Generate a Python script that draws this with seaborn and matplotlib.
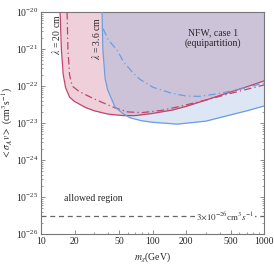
import numpy as np
import pandas as pd
import matplotlib
matplotlib.use('Agg')
import matplotlib.pyplot as plt
import matplotlib.ticker as mticker
import seaborn as sns

# curves: dark-matter mass (GeV) and log10 <sigma v>
red_m = [14.8, 15.2, 15.8, 16.6, 18, 20, 25, 30, 40, 55, 70, 100, 150, 200, 300, 500, 700, 1000]
red_y = [-20.0, -21.0, -21.7, -22.05, -22.3, -22.42, -22.58, -22.67, -22.76, -22.80, -22.80,
         -22.74, -22.65, -22.55, -22.38, -22.16, -22.02, -21.86]

red_dd_m = [17.1, 17.4, 18.0, 19, 22, 30, 45, 60, 80, 120, 176, 300, 500, 1000]
red_dd_y = [-20.0, -21.0, -21.7, -22.0, -22.15, -22.35, -22.58, -22.70, -22.72, -22.66,
            -22.55, -22.38, -22.2, -21.97]

blue_m = [35.2, 35.8, 37.5, 39.5, 46, 55, 63, 80, 100, 166, 300, 500, 700, 1000]
blue_y = [-20.0, -21.0, -21.8, -22.1, -22.57, -22.76, -22.86, -22.94, -22.98, -23.03,
          -22.95, -22.78, -22.67, -22.54]

blue_dd_m = [36, 40, 48, 55, 67, 77, 100, 150, 200, 260, 400, 600, 1000]
blue_dd_y = [-20.45, -20.75, -21.03, -21.35, -21.65, -21.82, -22.03, -22.2, -22.27, -22.28,
             -22.2, -22.09, -21.92]

thermal = 3e-26

red_c = '#c0456a'
blue_c = '#6a9ee0'
pink = '#efcfd9'
lightblue = '#dce6f5'
purple = '#cdc3d9'

sns.set_style('ticks')
plt.rcParams['font.family'] = ['Liberation Serif', 'DejaVu Serif']
plt.rcParams['mathtext.fontset'] = 'stix'

fig = plt.figure(figsize=(2.74, 2.68), dpi=100)
ax = fig.add_axes([0.150, 0.127, 0.814, 0.828])

top = 1e-20
# filled regions
grid = np.logspace(np.log10(min(red_m)), 3, 600)
lr = np.interp(np.log10(grid), np.log10(red_m), red_y)
ax.fill_between(grid, 10 ** lr, top, color=pink, lw=0, zorder=1)
gb = np.logspace(np.log10(min(blue_m)), 3, 600)
lb = np.interp(np.log10(gb), np.log10(blue_m), blue_y)
ax.fill_between(gb, 10 ** lb, top, color=lightblue, lw=0, zorder=1)
lrb = np.interp(np.log10(gb), np.log10(red_m), red_y)
ax.fill_between(gb, 10 ** np.maximum(lb, lrb), top, color=purple, lw=0, zorder=1)

curves = pd.DataFrame({
    'm': red_m + red_dd_m + blue_m + blue_dd_m,
    'sv': list(10 ** np.array(red_y)) + list(10 ** np.array(red_dd_y))
          + list(10 ** np.array(blue_y)) + list(10 ** np.array(blue_dd_y)),
    'curve': ['red'] * len(red_m) + ['red_dd'] * len(red_dd_m)
             + ['blue'] * len(blue_m) + ['blue_dd'] * len(blue_dd_m),
})

styles = {'red': (red_c, '-'), 'red_dd': (red_c, (0, (6, 2.5, 1, 2.5))),
          'blue': (blue_c, '-'), 'blue_dd': (blue_c, (0, (6, 2.5, 1, 2.5)))}
for name, (col, ls) in styles.items():
    sub = curves[curves['curve'] == name]
    sns.lineplot(data=sub, x='m', y='sv', ax=ax, color=col, linestyle=ls,
                 lw=0.9, sort=False, estimator=None, zorder=3)

# thermal relic line
ax.axhline(thermal, color='#666666', lw=0.9, ls=(0, (4, 3)), zorder=2)
ax.text(448, thermal, r'$3{\times}10^{-26}$cm$^3s^{-1}$', fontsize=6.5, ha='center',
        va='center', color='#333333', zorder=4,
        bbox=dict(facecolor='white', edgecolor='none', pad=0.6))

ax.text(29.3, 10 ** -25.03, 'allowed region', fontsize=7, ha='center', va='center')
ax.text(349, 10 ** -20.55, 'NFW, case 1', fontsize=7, ha='center', va='center')
ax.text(349, 10 ** -20.85, '(equipartition)', fontsize=7, ha='center', va='center')
ax.text(13.5, 10 ** -20.6, r'$\lambda$ = 20 cm', fontsize=7, rotation=90,
        ha='center', va='center')
ax.text(31, 10 ** -20.72, r'$\lambda$ = 3.6 cm', fontsize=7, rotation=90,
        ha='center', va='center')

ax.set_xscale('log')
ax.set_yscale('log')
ax.set_xlim(10, 1000)
ax.set_ylim(1e-26, 1e-20)
xt = [10, 20, 50, 100, 200, 500, 1000]
ax.set_xticks(xt)
ax.set_xticklabels([str(v) for v in xt])
ax.xaxis.set_minor_locator(mticker.LogLocator(base=10, subs=np.arange(1, 10)))
ax.xaxis.set_minor_formatter(mticker.NullFormatter())
ax.yaxis.set_major_locator(mticker.LogLocator(base=10, numticks=10))
ax.yaxis.set_minor_locator(mticker.LogLocator(base=10, subs=np.arange(2, 10), numticks=10))
ax.yaxis.set_minor_formatter(mticker.NullFormatter())
ax.tick_params(which='both', direction='in', top=True, right=True, labelsize=7,
               color='#777777', pad=2)
ax.tick_params(which='major', length=3, width=0.6)
ax.tick_params(which='minor', length=1.5, width=0.5)
for s in ax.spines.values():
    s.set_color('#777777')
    s.set_linewidth(0.8)

ax.set_xlabel(r'$m_\chi$(GeV)', fontsize=7, labelpad=3)
ax.set_ylabel(r'$<\sigma_A v>$ (cm$^3$s$^{-1}$)', fontsize=7, labelpad=1)

fig.savefig('out.png', dpi=100)
